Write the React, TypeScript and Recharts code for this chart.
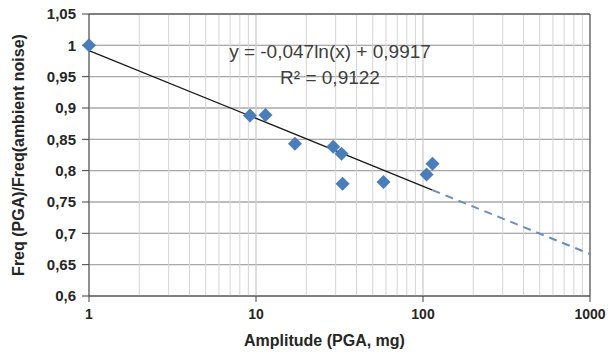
import { ComposedChart, Scatter, Line, XAxis, YAxis, CartesianGrid, ReferenceLine } from 'recharts';

// Measured points: PGA amplitude (mg) vs frequency ratio
const amplitude = [1, 9.2, 11.4, 17.1, 29, 32.5, 33, 58, 105, 114];
const freqRatio = [1.0, 0.888, 0.889, 0.843, 0.838, 0.827, 0.779, 0.782, 0.794, 0.811];

// Log trendline y = -0.047 ln(x) + 0.9917 (solid over data, dashed beyond)
const trendX = [1, 114];
const trendY = [0.9917, 0.769];
const extX = [114, 1000];
const extY = [0.769, 0.667];

const xTicks = [1, 2, 3, 4, 5, 6, 7, 8, 9, 10, 20, 30, 40, 50, 60, 70, 80, 90, 100, 200, 300, 400, 500, 600, 700, 800, 900, 1000];
const decadeTicks = [1, 10, 100, 1000];
const yTicks = [0.6, 0.65, 0.7, 0.75, 0.8, 0.85, 0.9, 0.95, 1, 1.05];

const points = amplitude.map((x, i) => ({ x, y: freqRatio[i] }));
const trend = trendX.map((x, i) => ({ x, y: trendY[i] }));
const trendExt = extX.map((x, i) => ({ x, y: extY[i] }));

const FONT = '"Liberation Sans", Arial, sans-serif';
const BLUE = '#4a7ebb';

const Diamond = (props: any) => {
  const { cx, cy } = props;
  const r = 7;
  return <polygon points={`${cx},${cy - r} ${cx + r},${cy} ${cx},${cy + r} ${cx - r},${cy}`} fill={BLUE} />;
};

const XTick = (props: any) => {
  const { x, y, payload } = props;
  if (!decadeTicks.includes(payload.value)) return null;
  return (
    <g>
      <text x={x} y={y + 15} textAnchor="middle" fontFamily={FONT} fontSize={14} fontWeight="bold" fill="#262626">
        {payload.value}
      </text>
    </g>
  );
};

const fmtY = (v: number) => String(v).replace('.', ',');

export default function App() {
  return (
    <div style={{ position: 'absolute', left: 0, top: 0, width: 612, height: 354, background: '#fff' }}>
      <ComposedChart width={612} height={354} margin={{ top: 14, right: 22, bottom: 0, left: 0 }}>
        <CartesianGrid horizontal={false} stroke="#d4d4d4" />
        <CartesianGrid vertical={false} stroke="#a8a8a8" />
        <XAxis
          type="number"
          dataKey="x"
          scale="log"
          domain={[1, 1000]}
          ticks={decadeTicks}
          interval={0}
          height={58}
          tickSize={6}
          tickLine={{ stroke: '#404040' }}
          tick={<XTick />}
          axisLine={{ stroke: '#404040' }}
          label={{ value: 'Amplitude (PGA, mg)', position: 'insideBottom', offset: 8, dx: -15, fontFamily: FONT, fontSize: 16, fontWeight: 'bold', fill: '#262626' }}
        />
        <XAxis xAxisId="minor" type="number" dataKey="x" scale="log" domain={[1, 1000]} ticks={xTicks} interval={0} hide />
        <YAxis
          type="number"
          domain={[0.6, 1.05]}
          ticks={yTicks}
          interval={0}
          width={89}
          tickSize={7}
          tickMargin={6}
          tickFormatter={fmtY}
          tick={{ fontFamily: FONT, fontSize: 15, fontWeight: 'bold', fill: '#262626' }}
          tickLine={{ stroke: '#404040' }}
          axisLine={{ stroke: '#404040' }}
          label={{ value: 'Freq (PGA)/Freq(ambient noise)', angle: -90, position: 'insideLeft', offset: 18, style: { textAnchor: 'middle' }, fontFamily: FONT, fontSize: 16, fontWeight: 'bold', fill: '#262626' }}
        />
        {xTicks.map((t) => (
          <ReferenceLine key={t} x={t} stroke="#d4d4d4" />
        ))}
        <CartesianGrid vertical={false} stroke="#a8a8a8" />
        <ReferenceLine y={1.05} stroke="#404040" />
        <ReferenceLine x={1000} stroke="#404040" />
        <Line data={trend} dataKey="y" type="linear" stroke="#1a1a1a" strokeWidth={1.3} dot={false} isAnimationActive={false} />
        <Line data={trendExt} dataKey="y" type="linear" stroke="#6a8dc0" strokeWidth={2} strokeDasharray="8 6" dot={false} isAnimationActive={false} />
        <Scatter data={points} dataKey="y" fill={BLUE} shape={<Diamond />} isAnimationActive={false} />
      </ComposedChart>
      <div style={{ position: 'absolute', left: 198, width: 264, top: 39, textAlign: 'center', fontFamily: FONT, fontSize: 19, color: '#404040', lineHeight: '26px' }}>
        y = -0,047ln(x) + 0,9917
        <br />
        R² = 0,9122
      </div>
    </div>
  );
}
